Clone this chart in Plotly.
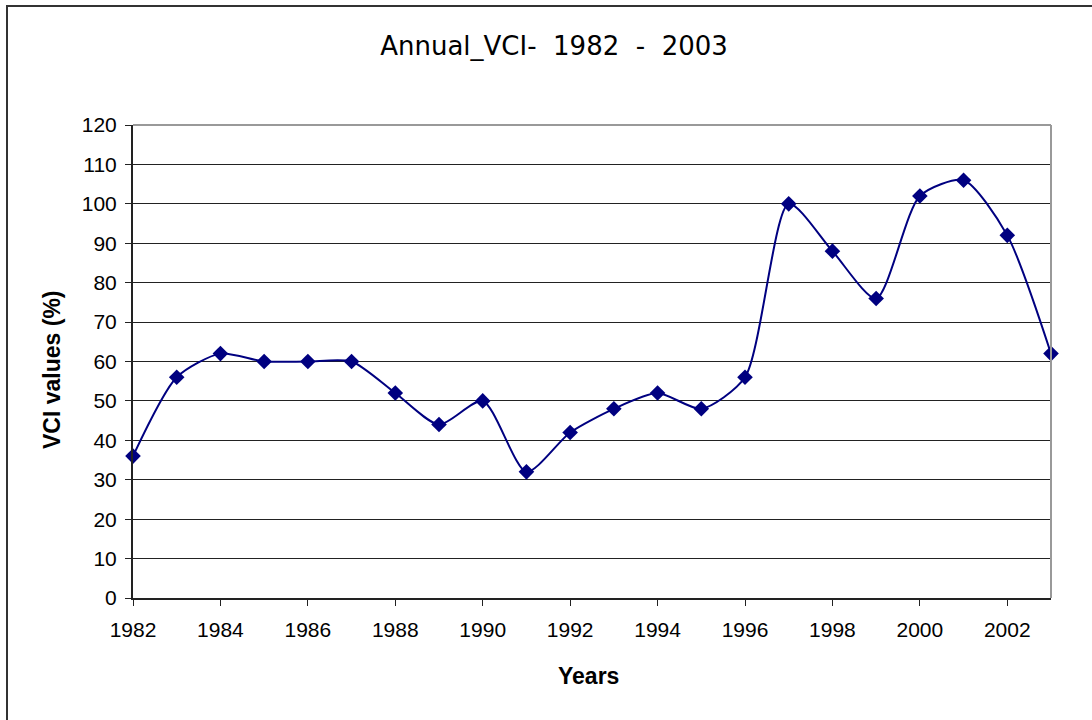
import plotly.graph_objects as go

# Annual VCI values
years = list(range(1982, 2004))
vci = [36, 56, 62, 60, 60, 60, 52, 44, 50, 32, 42, 48, 52, 48, 56,
       100, 88, 76, 102, 106, 92, 62]

W, H = 1092, 720
L, T = 133, 125
pw, ph = 918, 473
R, B = W - L - pw, H - T - ph

fig = go.Figure()

fig.add_trace(go.Scatter(
    x=years,
    y=vci,
    mode='lines+markers',
    line=dict(color='#000080', width=2, shape='spline', smoothing=0.7),
    marker=dict(symbol='diamond', size=12, color='#000080'),
    cliponaxis=False,
    showlegend=False,
))

fig.update_layout(
    width=W,
    height=H,
    margin=dict(l=L, r=R, t=T, b=B),
    paper_bgcolor='white',
    plot_bgcolor='white',
    font=dict(family='Liberation Sans, Arial, sans-serif', color='black', size=21),
    title=dict(
        text='Annual_VCI-\u00a0 1982\u00a0 -\u00a0 2003',
        x=554 / W, xanchor='center',
        y=1 - 46 / H, yanchor='middle',
        font=dict(family='DejaVu Sans', size=26, color='black'),
    ),
    xaxis=dict(
        range=[1982, 2003],
        tickmode='linear', tick0=1982, dtick=2,
        ticks='outside', ticklen=6, tickcolor='#222222', tickwidth=1,
        showline=True, linecolor='#222222', linewidth=2,
        showgrid=False, zeroline=False,
        tickfont=dict(size=21),
        ticklabelstandoff=6,
    ),
    yaxis=dict(
        range=[0, 120],
        tickmode='linear', tick0=0, dtick=10,
        ticks='outside', ticklen=6, tickcolor='#222222', tickwidth=1,
        showline=True, linecolor='#222222', linewidth=2,
        showgrid=True, gridcolor='#222222', gridwidth=1,
        zeroline=False,
        tickfont=dict(size=21),
        ticklabelstandoff=4,
    ),
    annotations=[
        dict(text='<b>Years</b>', xref='paper', yref='paper',
             x=(588 - L) / pw, y=(T + ph - 676) / ph,
             xanchor='center', yanchor='middle', showarrow=False,
             font=dict(size=23)),
        dict(text='<b>VCI values (%)</b>', xref='paper', yref='paper',
             x=(52 - L) / pw, y=(T + ph - 370) / ph, textangle=-90,
             xanchor='center', yanchor='middle', showarrow=False,
             font=dict(size=23)),
    ],
    shapes=[
        # outer chart frame (runs off the right and bottom edges)
        dict(type='rect', xref='paper', yref='paper',
             x0=(7 - L) / pw, x1=(W + 20 - L) / pw,
             y0=(T + ph - H - 20) / ph, y1=(T + ph - 6) / ph,
             line=dict(color='#333333', width=2)),
        # grey plot-area border on top and right
        dict(type='line', xref='paper', yref='paper', x0=0, x1=1, y0=1, y1=1,
             line=dict(color='#999999', width=2)),
        dict(type='line', xref='paper', yref='paper', x0=1, x1=1, y0=0, y1=1,
             line=dict(color='#999999', width=2)),
    ],
)

# drop the default body margin so the figure sits at the page origin
fig.write_html('out.html', config={'displayModeBar': False},
               post_script="document.body.style.margin='0';")
